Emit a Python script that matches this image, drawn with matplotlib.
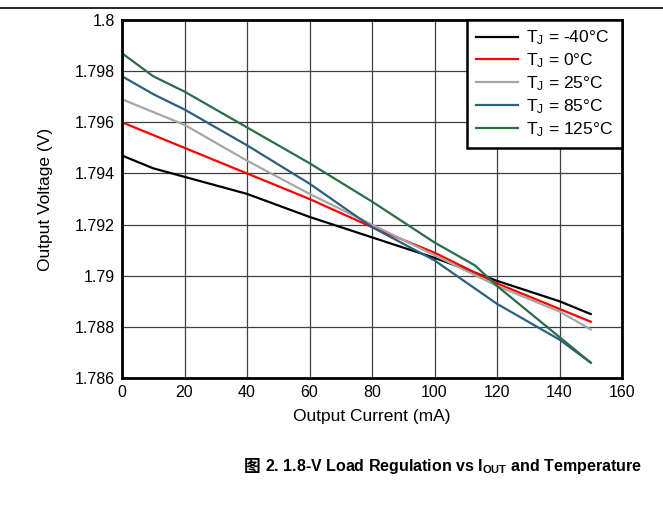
import matplotlib
matplotlib.use("Agg")
import matplotlib.pyplot as plt
from matplotlib.lines import Line2D

plt.rcParams['font.family'] = ['Liberation Sans', 'DejaVu Sans']
plt.rcParams['mathtext.fontset'] = 'custom'
plt.rcParams['mathtext.rm'] = 'Liberation Sans'
plt.rcParams['mathtext.it'] = 'Liberation Sans:italic'
plt.rcParams['mathtext.bf'] = 'Liberation Sans:bold'

# Data
x_m40 = [0, 10, 40, 60, 80, 100, 120, 140, 150]
v_m40 = [1.7947, 1.7942, 1.7932, 1.7923, 1.7915, 1.7907, 1.7898, 1.7890, 1.7885]

x_0 = [0, 10, 20, 40, 60, 80, 100, 120, 140, 150]
v_0 = [1.7960, 1.7955, 1.7950, 1.7940, 1.7930, 1.7919, 1.7909, 1.7897, 1.7887, 1.7882]

x_25 = [0, 20, 40, 60, 80, 100, 120, 140, 150]
v_25 = [1.7969, 1.7959, 1.7945, 1.7932, 1.7920, 1.7908, 1.7896, 1.7886, 1.7879]

x_85 = [0, 10, 20, 40, 60, 80, 100, 120, 140, 150]
v_85 = [1.7978, 1.7971, 1.7965, 1.7951, 1.7936, 1.7919, 1.7906, 1.7889, 1.7875, 1.7866]

x_125 = [0, 10, 20, 40, 60, 80, 100, 113, 120, 140, 150]
v_125 = [1.7987, 1.7978, 1.7972, 1.7958, 1.7944, 1.7929, 1.7913, 1.7904, 1.7896, 1.7876, 1.7866]

labels = [r'T$_\mathregular{J}$ = -40°C', r'T$_\mathregular{J}$ = 0°C', r'T$_\mathregular{J}$ = 25°C',
          r'T$_\mathregular{J}$ = 85°C', r'T$_\mathregular{J}$ = 125°C']
colors = ['#000000', '#ff0000', '#a6a6a6', '#2a6080', '#2a6e46']

x_ticks = [0, 20, 40, 60, 80, 100, 120, 140, 160]
y_ticks = [1.786, 1.788, 1.79, 1.792, 1.794, 1.796, 1.798, 1.8]
y_ticklabels = ['1.786', '1.788', '1.79', '1.792', '1.794', '1.796', '1.798', '1.8']

fig = plt.figure(figsize=(6.63, 5.08), dpi=100)
ax = fig.add_axes([122/663, 1 - 378/508, 500/663, 358/508])

series = [(x_m40, v_m40), (x_0, v_0), (x_25, v_25), (x_85, v_85), (x_125, v_125)]
for (xs, vs), lab, c in zip(series, labels, colors):
    ax.plot(xs, vs, color=c, lw=1.6, label=lab)

ax.set_xlim(0, 160)
ax.set_ylim(1.786, 1.8)
ax.set_xticks(x_ticks)
ax.set_xticklabels([str(t) for t in x_ticks])
ax.set_yticks(y_ticks)
ax.set_yticklabels(y_ticklabels)
ax.tick_params(length=0, labelsize=11.5, pad=5, colors='black')
ax.grid(True, color='#404040', lw=0.9)
ax.set_axisbelow(True)
for s in ax.spines.values():
    s.set_linewidth(2)
    s.set_color('black')

ax.set_xlabel('Output Current (mA)', fontsize=12.5)
ax.set_ylabel('Output Voltage (V)', fontsize=12.5)
ax.xaxis.set_label_coords(0.5, -(409 - 378) / 358)
ax.yaxis.set_label_coords((53 - 122) / 500, 0.5)

leg = ax.legend(loc='upper right', fontsize=12.5, frameon=True, fancybox=False,
                borderaxespad=0, handlelength=2.4, handletextpad=0.5,
                labelspacing=0.24, borderpad=0.5)
leg.get_frame().set_edgecolor('black')
leg.get_frame().set_linewidth(1.8)
leg.get_frame().set_alpha(1)

fig.add_artist(Line2D([0, 1], [1 - 8/508, 1 - 8/508], color='black', lw=1.2))

cap_y = 1 - 467/508
fig.text(265/663, cap_y,
         r'2. 1.8-V Load Regulation vs I$_\mathbf{OUT}$ and Temperature',
         ha='left', va='center', fontsize=11.5, fontweight='bold')
fig.text(260/663, cap_y, '图', ha='right', va='center', fontsize=12,
         fontweight='bold', family=['Noto Sans CJK SC', 'DejaVu Sans'])

fig.savefig('out.png', dpi=100)
